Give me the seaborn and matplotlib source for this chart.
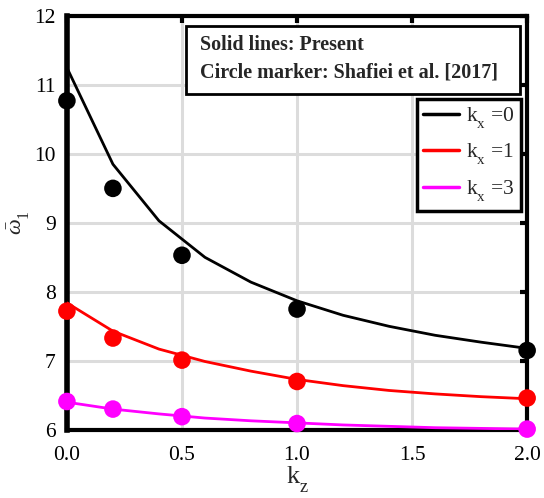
import numpy as np
import pandas as pd
import seaborn as sns
import matplotlib
matplotlib.use("Agg")
import matplotlib.pyplot as plt
from matplotlib.patches import Rectangle

# Present model: fundamental frequency vs k_z for three k_x values
kz_line = [0.0, 0.2, 0.4, 0.6, 0.8, 1.0, 1.2, 1.4, 1.6, 1.8, 2.0]
w_kx0 = [11.25, 9.85, 9.03, 8.50, 8.14, 7.87, 7.66, 7.50, 7.37, 7.27, 7.18]
w_kx1 = [7.84, 7.43, 7.17, 6.99, 6.85, 6.73, 6.64, 6.57, 6.52, 6.48, 6.45]
w_kx3 = [6.40, 6.30, 6.23, 6.17, 6.13, 6.10, 6.07, 6.05, 6.03, 6.02, 6.01]

# Shafiei et al. [2017]
kz_ref = [0.0, 0.2, 0.5, 1.0, 2.0]
r_kx0 = [10.77, 9.50, 8.53, 7.75, 7.15]
r_kx1 = [7.72, 7.33, 7.01, 6.70, 6.46]
r_kx3 = [6.41, 6.30, 6.19, 6.09, 6.01]

labels = ["k$_\\mathrm{x}$ =0", "k$_\\mathrm{x}$ =1", "k$_\\mathrm{x}$ =3"]
colors = ["#000000", "#ff0000", "#ff00ff"]

sns.set_theme(style="white")
plt.rcParams["font.family"] = ["Liberation Serif", "DejaVu Serif"]
plt.rcParams["mathtext.fontset"] = "custom"
plt.rcParams["mathtext.rm"] = "Liberation Serif"
plt.rcParams["mathtext.it"] = "Liberation Serif:italic"
plt.rcParams["mathtext.bf"] = "Liberation Serif:bold"

# drop subscripts a little lower than the default for this font
try:
    import matplotlib._mathtext as _mt

    class _LowSub(_mt.FontConstantsBase):
        sub1 = 0.75
        sub2 = 0.8

    _mt._font_constant_mapping["Liberation Serif"] = _LowSub
except Exception:
    pass

lines = pd.DataFrame({
    "kz": kz_line * 3,
    "w": w_kx0 + w_kx1 + w_kx3,
    "case": [labels[0]] * len(kz_line) + [labels[1]] * len(kz_line) + [labels[2]] * len(kz_line),
})
refs = pd.DataFrame({
    "kz": kz_ref * 3,
    "w": r_kx0 + r_kx1 + r_kx3,
    "case": [labels[0]] * len(kz_ref) + [labels[1]] * len(kz_ref) + [labels[2]] * len(kz_ref),
})
palette = dict(zip(labels, colors))

fig = plt.figure(figsize=(5.44, 4.98), dpi=100)
ax = fig.add_axes([0.123, 0.137, 0.846, 0.831])

sns.lineplot(data=lines, x="kz", y="w", hue="case", palette=palette, lw=2,
             ax=ax, zorder=3, legend=True)
sns.scatterplot(data=refs, x="kz", y="w", hue="case", palette=palette, s=160,
                edgecolor="none", ax=ax, zorder=4, legend=False, clip_on=False)

ax.set_xlim(0, 2)
ax.set_ylim(6, 12)
ax.set_xticks([0, 0.5, 1.0, 1.5, 2.0])
ax.set_xticklabels(["0.0", "0.5", "1.0", "1.5", "2.0"])
ax.set_yticks([6, 7, 8, 9, 10, 11, 12])
ax.grid(True, color="#dcdcdc", lw=2.2)
ax.set_axisbelow(True)
for s in ax.spines.values():
    s.set_color("black")
    s.set_linewidth(3)
ax.spines["left"].set_linewidth(4)
ax.tick_params(direction="in", length=5, width=3, labelsize=15.5, colors="black",
               top=True, right=True)
ax.tick_params(axis="x", pad=12)
ax.tick_params(axis="y", pad=8)
ax.set_xlabel("k$_\\mathrm{z}$", fontsize=19, labelpad=-1)
ax.set_ylabel(r"$\bar{\omega}_1$", fontsize=16, labelpad=2)

# annotation box with the data sources
box = Rectangle((186, 498 - 94), 520 - 186, 94 - 26, transform=None,
                fc="white", ec="black", lw=2, zorder=6)
fig.patches.append(box)
fig.text(200 / 544, 1 - 45 / 498, "Solid lines: Present", fontsize=14.5,
         fontweight="bold", va="center", ha="left", zorder=7)
fig.text(200 / 544, 1 - 72 / 498, "Circle marker: Shafiei et al. [2017]",
         fontsize=14.5, fontweight="bold", va="center", ha="left", zorder=7)

leg = ax.legend(loc="upper right", bbox_to_anchor=(0.987, 0.80), fontsize=15.5,
                frameon=True, fancybox=False, handlelength=1.65, handletextpad=0.35,
                borderpad=0.3, labelspacing=0.52, borderaxespad=0)
leg.get_frame().set_edgecolor("black")
leg.get_frame().set_linewidth(2.5)
leg.get_frame().set_alpha(1)
for h in leg.get_lines():
    h.set_linewidth(2.5)

fig.savefig("out.png", dpi=100)
